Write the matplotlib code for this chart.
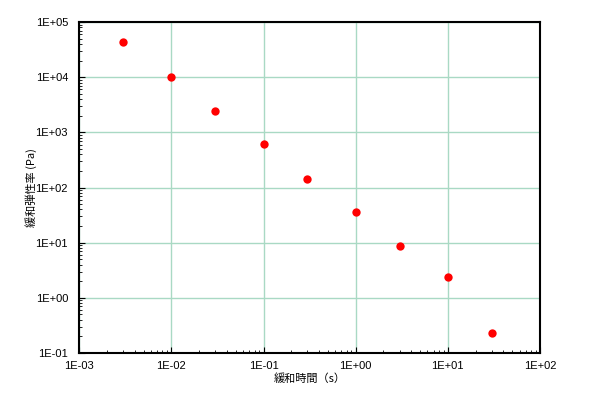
import numpy as np
import matplotlib.pyplot as plt
from matplotlib.ticker import FuncFormatter, LogLocator, NullFormatter

plt.rcParams['font.family'] = ['Noto Sans CJK JP', 'DejaVu Sans']

# relaxation time (s) and relaxation modulus (Pa)
time_s = [3e-3, 1e-2, 3e-2, 1e-1, 3e-1, 1e0, 3e0, 1e1, 3e1]
modulus_pa = [43000, 10000, 2450, 610, 143, 36, 8.7, 2.4, 0.23]

fig = plt.figure(figsize=(6, 4), dpi=100)
ax = fig.add_axes([0.132, 0.1175, 0.768, 0.8275])

ax.scatter(time_s, modulus_pa, s=36, color='#ff0000', zorder=3, linewidths=0)

ax.set_xscale('log')
ax.set_yscale('log')
ax.set_xlim(1e-3, 1e2)
ax.set_ylim(1e-1, 1e5)

fmt = FuncFormatter(lambda v, p: '1E{:+03d}'.format(int(round(np.log10(v)))))
ax.xaxis.set_major_locator(LogLocator(base=10, numticks=20))
ax.yaxis.set_major_locator(LogLocator(base=10, numticks=20))
ax.xaxis.set_minor_locator(LogLocator(base=10, subs=np.arange(2, 10), numticks=20))
ax.yaxis.set_minor_locator(LogLocator(base=10, subs=np.arange(2, 10), numticks=20))
ax.xaxis.set_major_formatter(fmt)
ax.yaxis.set_major_formatter(fmt)
ax.xaxis.set_minor_formatter(NullFormatter())
ax.yaxis.set_minor_formatter(NullFormatter())

ax.grid(True, which='major', color='#a9d9c4', linewidth=1)
ax.tick_params(which='both', direction='in', labelsize=8, colors='black')
ax.tick_params(which='major', length=4)
ax.tick_params(axis='x', which='major', pad=6)
ax.tick_params(axis='y', which='major', pad=8)
ax.tick_params(which='minor', length=2.5)
for lbl in ax.get_xticklabels() + ax.get_yticklabels():
    lbl.set_family('Liberation Sans')
for sp in ax.spines.values():
    sp.set_linewidth(1.5)

ax.set_xlabel('緩和時間（s）', fontsize=8, labelpad=1)
ax.set_ylabel('緩和弾性率 (Pa)', fontsize=8, labelpad=-1)

fig.savefig('out.png', dpi=100)
